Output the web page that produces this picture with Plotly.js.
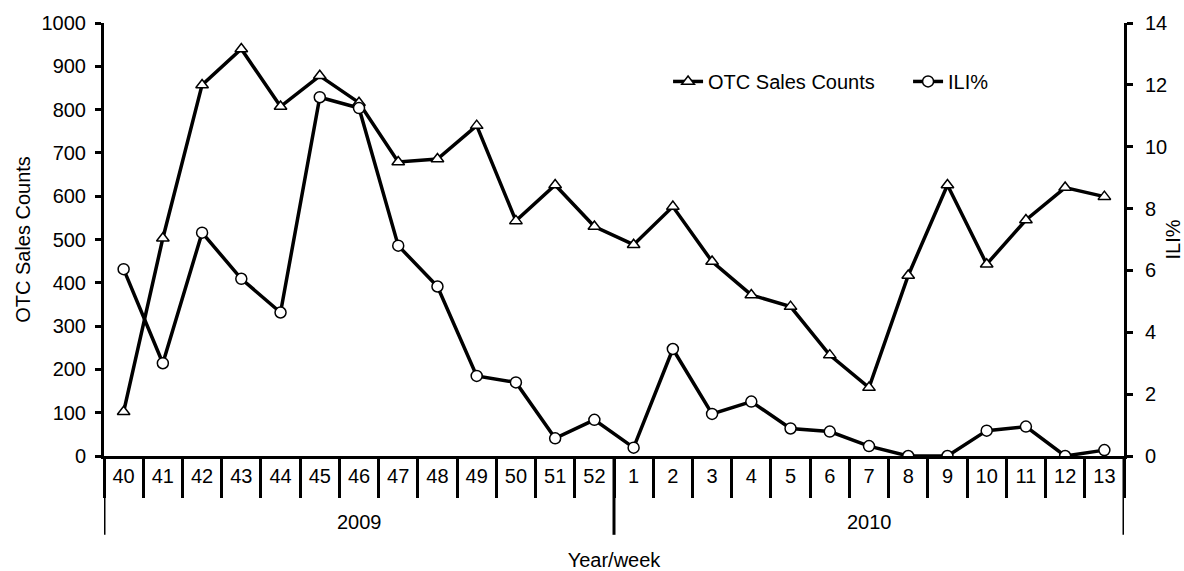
<!DOCTYPE html>
<html>
<head>
<meta charset="utf-8">
<script src="https://cdn.plot.ly/plotly-3.0.1.min.js"></script>
<style>html,body{margin:0;padding:0;background:#fff;}#chart{width:1184px;height:571px;}</style>
</head>
<body>
<div id="chart"></div>
<script>
const weeks = ["40","41","42","43","44","45","46","47","48","49","50","51","52","1","2","3","4","5","6","7","8","9","10","11","12","13"];
const years = ["2009","2010"];
const yearSpans = [13, 13];
const otcSales = [102, 503, 857, 940, 807, 878, 816, 679, 686, 763, 543, 626, 530, 488, 576, 449, 372, 345, 233, 158, 417, 626, 443, 545, 620, 599];
const iliPct = [6.04, 3.0, 7.22, 5.73, 4.64, 11.6, 11.25, 6.8, 5.48, 2.59, 2.38, 0.57, 1.17, 0.27, 3.46, 1.36, 1.76, 0.89, 0.79, 0.32, 0, 0, 0.82, 0.95, 0, 0.19];

const FONT = "Liberation Sans, Arial, sans-serif";
const FS = 20;

const traces = [
  {
    x: weeks, y: otcSales, name: "OTC Sales Counts", type: "scatter", mode: "lines+markers",
    line: {color: "#000", width: 3.5},
    marker: {symbol: "triangle-up", size: 11, color: "#fff", line: {color: "#000", width: 1.5}},
    yaxis: "y"
  },
  {
    x: weeks, y: iliPct, name: "ILI%", type: "scatter", mode: "lines+markers",
    line: {color: "#000", width: 3.5},
    marker: {symbol: "circle", size: 11, color: "#fff", line: {color: "#000", width: 1.5}},
    yaxis: "y2"
  }
];

// year group labels and dividers, positioned by category index on the x axis
const annotations = [];
const shapes = [];
let start = 0;
years.forEach((yr, i) => {
  const n = yearSpans[i];
  annotations.push({
    x: start + (n - 1) / 2, xref: "x", y: -0.152, yref: "paper",
    text: yr, showarrow: false, font: {family: FONT, size: FS, color: "#000"},
    xanchor: "center", yanchor: "middle"
  });
  start += n;
});
let b = -0.5;
shapes.push({type: "line", xref: "x", yref: "paper", x0: b, x1: b, y0: 0, y1: -0.182, line: {color: "#000", width: 3}});
yearSpans.forEach(n => {
  b += n;
  shapes.push({type: "line", xref: "x", yref: "paper", x0: b, x1: b, y0: 0, y1: -0.182, line: {color: "#000", width: 3}});
});

const layout = {
  width: 1184, height: 571,
  margin: {l: 104, r: 60, t: 23, b: 115},
  paper_bgcolor: "#fff", plot_bgcolor: "#fff",
  font: {family: FONT, size: FS, color: "#000"},
  showlegend: true,
  legend: {
    orientation: "h", x: 0.553, y: 0.865, xanchor: "left", yanchor: "middle",
    font: {family: FONT, size: FS, color: "#000"}, bgcolor: "rgba(0,0,0,0)",
    entrywidth: 195, itemwidth: 30
  },
  xaxis: {
    type: "category", categoryorder: "array", categoryarray: weeks,
    range: [-0.5, weeks.length - 0.5],
    showline: true, linecolor: "#000", linewidth: 3,
    showgrid: false, zeroline: false,
    ticks: "outside", tickson: "boundaries", ticklen: 39, tickwidth: 3, tickcolor: "#000",
    tickfont: {family: FONT, size: FS, color: "#000"},
    title: {text: "Year/week", font: {family: FONT, size: FS, color: "#000"}, standoff: 100},
    automargin: false
  },
  yaxis: {
    range: [0, 1000], dtick: 100, tick0: 0,
    showline: true, linecolor: "#000", linewidth: 3,
    showgrid: false, zeroline: false,
    ticks: "outside", ticklen: 6, tickwidth: 3, tickcolor: "#000",
    ticklabelstandoff: 5,
    tickfont: {family: FONT, size: FS, color: "#000"},
    title: {text: "OTC Sales Counts", font: {family: FONT, size: FS, color: "#000"}, standoff: 6},
    automargin: false
  },
  yaxis2: {
    overlaying: "y", side: "right", range: [0, 14], dtick: 2, tick0: 0,
    showline: true, linecolor: "#000", linewidth: 3,
    showgrid: false, zeroline: false,
    ticks: "outside", ticklen: 6, tickwidth: 3, tickcolor: "#000",
    ticklabelstandoff: 8,
    tickfont: {family: FONT, size: FS, color: "#000"},
    title: {text: "ILI%", font: {family: FONT, size: FS, color: "#000"}, standoff: 2},
    automargin: false
  },
  annotations: annotations,
  shapes: shapes
};

Plotly.newPlot("chart", traces, layout, {displayModeBar: false, staticPlot: true});
</script>
</body>
</html>
